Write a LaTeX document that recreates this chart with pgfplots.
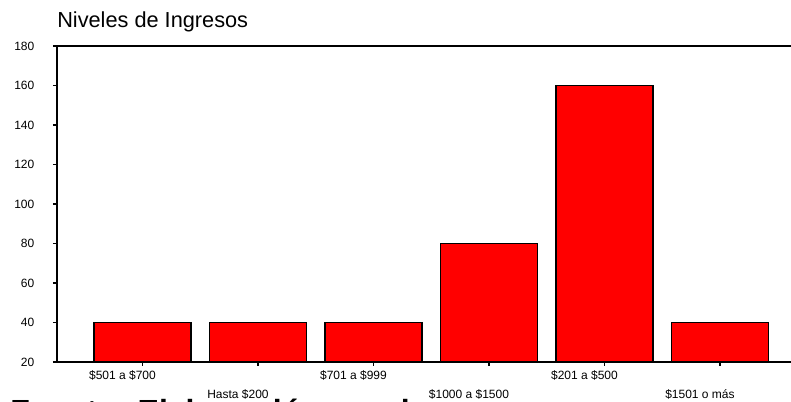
\documentclass[border=0pt]{standalone}
\usepackage{pgfplots}
\pgfplotsset{compat=1.18}
\usepackage{fontspec}
\setmainfont{Liberation Sans}

\definecolor{barred}{RGB}{255,0,0}

\begin{document}
\begin{tikzpicture}
\begin{axis}[
    name=ingresos,
    at={(0,0)}, anchor=south west,
    scale only axis,
    width=550.5pt, height=237pt,
    ybar, bar width=0.84,
    xmin=-0.74, xmax=5.615,
    ymin=20, ymax=180,
    ytick={20,40,...,180},
    axis x line=box, axis y line=left,
    axis line style={-, line width=1.1pt},
    tick align=outside,
    xtick pos=bottom,
    major tick length=3pt,
    tick style={black, line width=1.1pt},
    /pgf/number format/assume math mode=true,
    tick label style={font=\fontsize{9}{10}\selectfont},
    yticklabel style={xshift=-10.5pt},
    xticklabel style={xshift=-15pt},
    xtick={0,2,4},
    xticklabels={\$501 a \$700, \$701 a \$999, \$201 a \$500},
    extra x ticks={1,3,5},
    extra x tick labels={Hasta \$200, \$1000 a \$1500, \$1501 o más},
    extra x tick style={xticklabel style={yshift=-14.5pt}},
]
\addplot[fill=barred, draw=black, line width=1.1pt]
    coordinates {(0,40) (1,40) (2,40) (3,80) (4,160) (5,40)};
\end{axis}
\node[anchor=base west, font=\fontsize{16.3}{18}\selectfont, inner sep=0pt]
    at ([yshift=13.5pt]ingresos.north west) {Niveles de Ingresos};
\begin{scope}
\clip (-42.75pt,-30pt) rectangle (550.5pt,271.5pt);
\node[anchor=base west, font=\fontsize{24}{26}\selectfont\bfseries, inner sep=0pt]
    at (-35.25pt,-45.5pt) {Fuente: Elaboración propia};
\end{scope}
\pgfresetboundingbox
\useasboundingbox (-42.75pt,-30pt) rectangle (550.5pt,271.5pt);
\end{tikzpicture}
\end{document}
